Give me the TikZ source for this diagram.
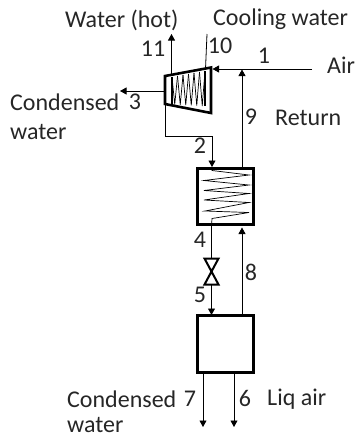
\documentclass[tikz,border=0pt]{standalone}
\usepackage{fontspec}
\setmainfont{Carlito}
\usetikzlibrary{arrows.meta}
\tikzset{
  pipe/.style={line width=0.8pt},
  flow/.style={pipe,-{Triangle[length=6.5pt,width=7pt]}},
  unit/.style={draw,line width=2.6pt,minimum size=56.5pt,inner sep=0pt},
  coil/.style={line width=0.7pt},
  lbl/.style={font=\fontsize{24}{28}\selectfont,inner sep=0pt,text=black!85},
  lbll/.style={lbl,anchor=west}
}

\begin{document}
\begin{tikzpicture}[x=1pt,y=-1pt]
  \useasboundingbox (0,0) rectangle (355,440);
  % units
  \node[unit] (hx) at (225.5,196.5) {};
  \node[unit] (sep) at (225.5,344) {};
  \draw[line width=2.6pt,line join=miter] (165,76) coordinate (compNW) -- (211,67.5) coordinate (compNE)
    -- (211,113) coordinate (compSE) -- (165,104) coordinate (compSW) -- cycle;
  % valve
  \draw[line width=2pt] (204.5,258.5) -- (218.5,258.5) -- (204.5,284.5) -- (218.5,284.5) -- cycle;
  \coordinate (valveT) at (211.5,258.5);
  \coordinate (valveB) at (211.5,284.5);
  % free ends
  \coordinate (airIn) at (312,69);
  \coordinate (airTip) at (212.5,69);
  \coordinate (retTip) at (242,69.5);
  \coordinate (coolIn) at (207,34);
  \coordinate (coolEnd) at (205.5,69);
  \coordinate (hotOut) at (171.5,34);
  \coordinate (hotSt) at (171.5,75);
  \coordinate (condSt) at (165,91);
  \coordinate (condOut) at (120,91);
  \coordinate (hxIn) at (212,167);
  \coordinate (hxOut) at (211.5,226);
  \coordinate (sepIn) at (211.5,315);
  \coordinate (hxRet) at (242,167);
  \coordinate (hxRetTip) at (242,227.5);
  \coordinate (sepRet) at (242,315);
  \coordinate (liqSt) at (234,373);
  \coordinate (liqOut) at (234,427);
  \coordinate (wetSt) at (203,373);
  \coordinate (wetOut) at (203,427);
  % connectors
  \draw[flow] (airIn) -- (airTip);
  \draw[flow] (hxRet) -- (retTip);
  \draw[pipe] (coolIn) -- (coolEnd);
  \draw[flow] (hotSt) -- (hotOut);
  \draw[flow] (condSt) -- (condOut);
  \draw[flow] (compSW) -- (165,136) -- (212,136) -- (hxIn);
  \draw[pipe] (hxOut) -- (valveT);
  \draw[flow] (valveB) -- (sepIn);
  \draw[flow] (sepRet) -- (hxRetTip);
  \draw[flow] (liqSt) -- (liqOut);
  \draw[flow] (wetSt) -- (wetOut);
  % coils
  \draw[coil] (212,167) -- (212,170.5) -- (249,175) -- (204,180.5) -- (249,185) -- (204,190.5)
    -- (249,193.5) -- (204,200) -- (249,202.5) -- (205,211) -- (249,212.5) -- (212,218.5) -- (hxOut);
  \foreach \i in {0,...,5} {
    \draw[coil] ({172+5.5*\i},{77-\i}) -- ({174.75+5.5*\i},{104.5+0.3*\i}) -- ({177.5+5.5*\i},{76-\i});
  }
  \draw[line width=1.4pt] (172,77) -- (172,104);
  \draw[line width=1.4pt] (205,71) -- (205,106);
  % labels
  \node[lbll] (lblHot) at (65,20) {Water (hot)};
  \node[lbll] (lblCool) at (213,19) {Cooling water};
  \node[lbl] (lbl11) at (153,49) {11};
  \node[lbl] (lbl10) at (220,46) {10};
  \node[lbl] (lbl1) at (264,56) {1};
  \node[lbll] (lblAir) at (327,65) {Air};
  \node[lbl] (lbl9) at (251,117) {9};
  \node[lbll] (lblRet) at (275,118) {Return};
  \node[lbll] (lblCondA) at (10,102) {Condensed};
  \node[lbll] (lblCondB) at (10,132) {water};
  \node[lbl] (lbl3) at (135,102) {3};
  \node[lbl] (lbl2) at (200,146) {2};
  \node[lbl] (lbl4) at (200,240) {4};
  \node[lbl] (lbl5) at (200,295) {5};
  \node[lbl] (lbl8) at (251,272) {8};
  \node[lbll] (lblWetA) at (67,399) {Condensed};
  \node[lbll] (lblWetB) at (67,425) {water};
  \node[lbl] (lbl7) at (190,399) {7};
  \node[lbl] (lbl6) at (245,398) {6};
  \node[lbll] (lblLiq) at (267,399) {Liq air};
\end{tikzpicture}
\end{document}
